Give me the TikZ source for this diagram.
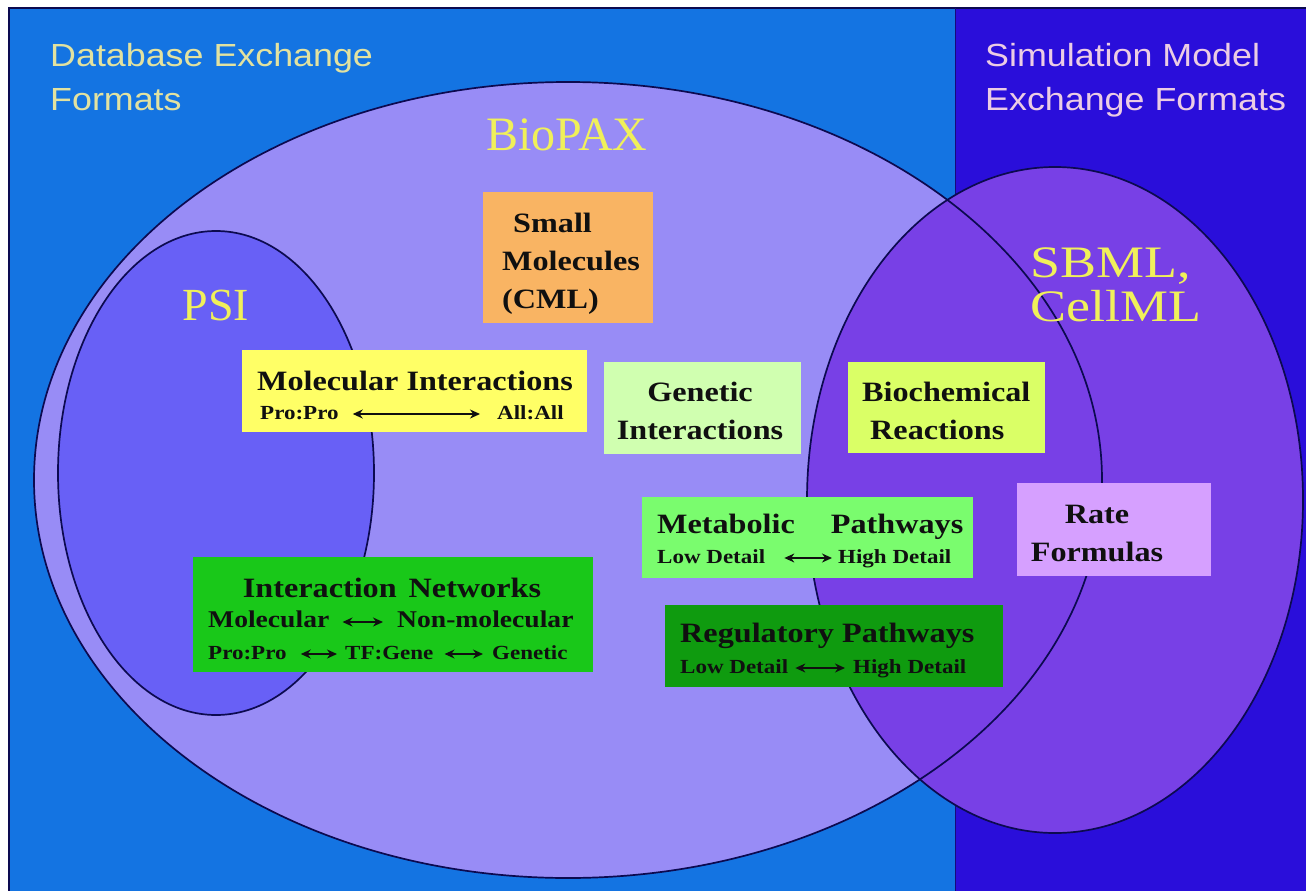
\documentclass[tikz,border=0pt]{standalone}
\usepackage{fontspec}
\setmainfont{Liberation Serif}
\newfontfamily\boxfam[FakeStretch=1.15]{Liberation Serif}
\newfontfamily\headfam[FakeStretch=1.12]{Liberation Sans}
\newfontfamily\widefam[FakeStretch=1.2]{Liberation Serif}
\usetikzlibrary{arrows.meta}

\definecolor{dbblue}{RGB}{20,116,226}
\definecolor{simblue}{RGB}{42,14,218}
\definecolor{biopaxfill}{RGB}{152,140,246}
\definecolor{psifill}{RGB}{104,96,246}
\definecolor{sbmlfill}{RGB}{120,64,230}
\definecolor{rim}{RGB}{12,10,80}
\definecolor{headyellow}{RGB}{226,226,160}
\definecolor{headpink}{RGB}{236,204,228}
\definecolor{labelyellow}{RGB}{240,240,90}
\definecolor{inktext}{RGB}{16,16,16}
\definecolor{smallmolfill}{RGB}{249,180,99}
\definecolor{molintfill}{RGB}{255,255,102}
\definecolor{genintfill}{RGB}{208,255,176}
\definecolor{biochemfill}{RGB}{218,255,102}
\definecolor{metabfill}{RGB}{122,252,110}
\definecolor{ratefill}{RGB}{214,160,255}
\definecolor{netfill}{RGB}{25,200,25}
\definecolor{regfill}{RGB}{15,155,15}

\tikzset{
  region/.style={draw=rim, line width=1.7pt},
  boxbg/.style={draw=none, inner sep=0pt},
  boxtitle/.style={font=\boxfam\bfseries\fontsize{28}{38}\selectfont, text=inktext, inner sep=0pt},
  subtext/.style={font=\boxfam\bfseries\fontsize{20}{24}\selectfont, text=inktext, inner sep=0pt,
                  text height=14pt, text depth=4pt},
  midtext/.style={font=\boxfam\bfseries\fontsize{24}{28}\selectfont, text=inktext, inner sep=0pt,
                  text height=16pt, text depth=5pt},
  dbl/.style={{Stealth[length=10pt,width=9pt]}-{Stealth[length=10pt,width=9pt]}, line width=1.5pt, inktext},
  headtext/.style={font=\headfam\fontsize{32}{44}\selectfont, inner sep=0pt, align=left},
  setname/.style={text=labelyellow, inner sep=0pt},
}

\begin{document}
\begin{tikzpicture}[x=1pt,y=-1pt]
\useasboundingbox (0,0) rectangle (1306,891);
\fill[white] (0,0) rectangle (1306,891);

% two background panels
\fill[dbblue] (9,8) rectangle (955,891);
\fill[simblue] (955,8) rectangle (1306,891);
\draw[rim, line width=1.2pt] (1306,8) -- (9,8) -- (9,891);
\draw[rim!70!simblue, line width=0.8pt] (955,8) -- (955,891);

% set regions: fills first, then outlines
\fill[biopaxfill] (568,480) ellipse [x radius=534pt, y radius=398pt];
\fill[psifill] (216,473) ellipse [x radius=158pt, y radius=242pt];
\fill[sbmlfill] (1055,500) ellipse [x radius=248pt, y radius=333pt];
\draw[region] (568,480) ellipse [x radius=534pt, y radius=398pt];
\draw[region] (216,473) ellipse [x radius=158pt, y radius=242pt];
\draw[region] (1055,500) ellipse [x radius=248pt, y radius=333pt];

% panel headings
\node[headtext, text=headyellow, anchor=north west] (dbhead) at (50,43)
  {Database Exchange\\Formats};
\node[headtext, text=headpink, anchor=north west] (simhead) at (985,43)
  {Simulation Model\\Exchange Formats};

% set names
\node[setname, font=\fontsize{48}{52}\selectfont, anchor=base] (biopax) at (567,150) {BioPAX};
\node[setname, font=\fontsize{46}{50}\selectfont, anchor=base] (psi) at (216,320) {PSI};
\node[setname, font=\widefam\fontsize{45}{44}\selectfont, align=left, anchor=north west]
  (sbml) at (1030,248) {SBML,\\CellML};

% boxes
\node[boxbg, fill=smallmolfill, minimum width=170pt, minimum height=131pt] (smbox) at (568,257.5) {};
\node[boxbg, fill=molintfill,   minimum width=345pt, minimum height=82pt]  (mibox) at (414.5,391) {};
\node[boxbg, fill=genintfill,   minimum width=197pt, minimum height=92pt]  (gibox) at (702.5,408) {};
\node[boxbg, fill=biochemfill,  minimum width=197pt, minimum height=91pt]  (bcbox) at (946.5,407.5) {};
\node[boxbg, fill=metabfill,    minimum width=331pt, minimum height=81pt]  (mpbox) at (807.5,537.5) {};
\node[boxbg, fill=ratefill,     minimum width=194pt, minimum height=93pt]  (rfbox) at (1114,529.5) {};
\node[boxbg, fill=netfill,      minimum width=400pt, minimum height=115pt] (inbox) at (393,614.5) {};
\node[boxbg, fill=regfill,      minimum width=338pt, minimum height=82pt]  (rpbox) at (834,646) {};

% Small Molecules
\node[boxtitle, align=left, anchor=west] (smtext) at (502,264)
  {\hspace*{11pt}Small\\Molecules\\(CML)};

% Molecular Interactions
\node[boxtitle] (mititle) at (415,381) {Molecular Interactions};
\node[subtext, anchor=west] (mi-a) at (260,414) {Pro:Pro};
\node[subtext, anchor=west] (mi-b) at (497,414) {All:All};
\draw[dbl, shorten <=14pt, shorten >=17pt] (mi-a.east) -- (mi-b.west);

% Genetic Interactions
\node[boxtitle, align=center] (gitext) at (700,411) {Genetic\\Interactions};

% Biochemical Reactions
\node[boxtitle, align=left, anchor=west] (bctext) at (862,411) {Biochemical\\\hspace*{8pt}Reactions};

% Rate Formulas
\node[boxtitle, align=center] (rftext) at (1097,533) {Rate\\Formulas};

% Metabolic Pathways
\node[boxtitle, anchor=west] (mptitle) at (657,527) {Metabolic\hspace{36pt}Pathways};
\node[subtext, anchor=west] (mp-a) at (657,558) {Low Detail};
\node[subtext, anchor=west] (mp-b) at (838,558) {High Detail};
\draw[dbl, shorten <=19pt, shorten >=6pt] (mp-a.east) -- (mp-b.west);

% Regulatory Pathways
\node[boxtitle, anchor=west] (rptitle) at (680,636) {Regulatory Pathways};
\node[subtext, anchor=west] (rp-a) at (680,668) {Low Detail};
\node[subtext, anchor=west] (rp-b) at (853,668) {High Detail};
\draw[dbl, shorten <=7pt, shorten >=8pt] (rp-a.east) -- (rp-b.west);

% Interaction Networks
\node[boxtitle] (intitle) at (392,588) {Interaction\hspace{12pt}Networks};
\node[midtext, anchor=west] (in-a) at (208,622) {Molecular};
\node[midtext, anchor=west] (in-b) at (397,622) {Non-molecular};
\draw[dbl, shorten <=13pt, shorten >=14pt] (in-a.east) -- (in-b.west);
\node[subtext, anchor=west] (in-c) at (208,654) {Pro:Pro};
\node[subtext, anchor=west] (in-d) at (345,654) {TF:Gene};
\node[subtext, anchor=west] (in-e) at (492,654) {Genetic};
\draw[dbl, shorten <=14pt, shorten >=8pt] (in-c.east) -- (in-d.west);
\draw[dbl, shorten <=11pt, shorten >=9pt] (in-d.east) -- (in-e.west);
\end{tikzpicture}
\end{document}
